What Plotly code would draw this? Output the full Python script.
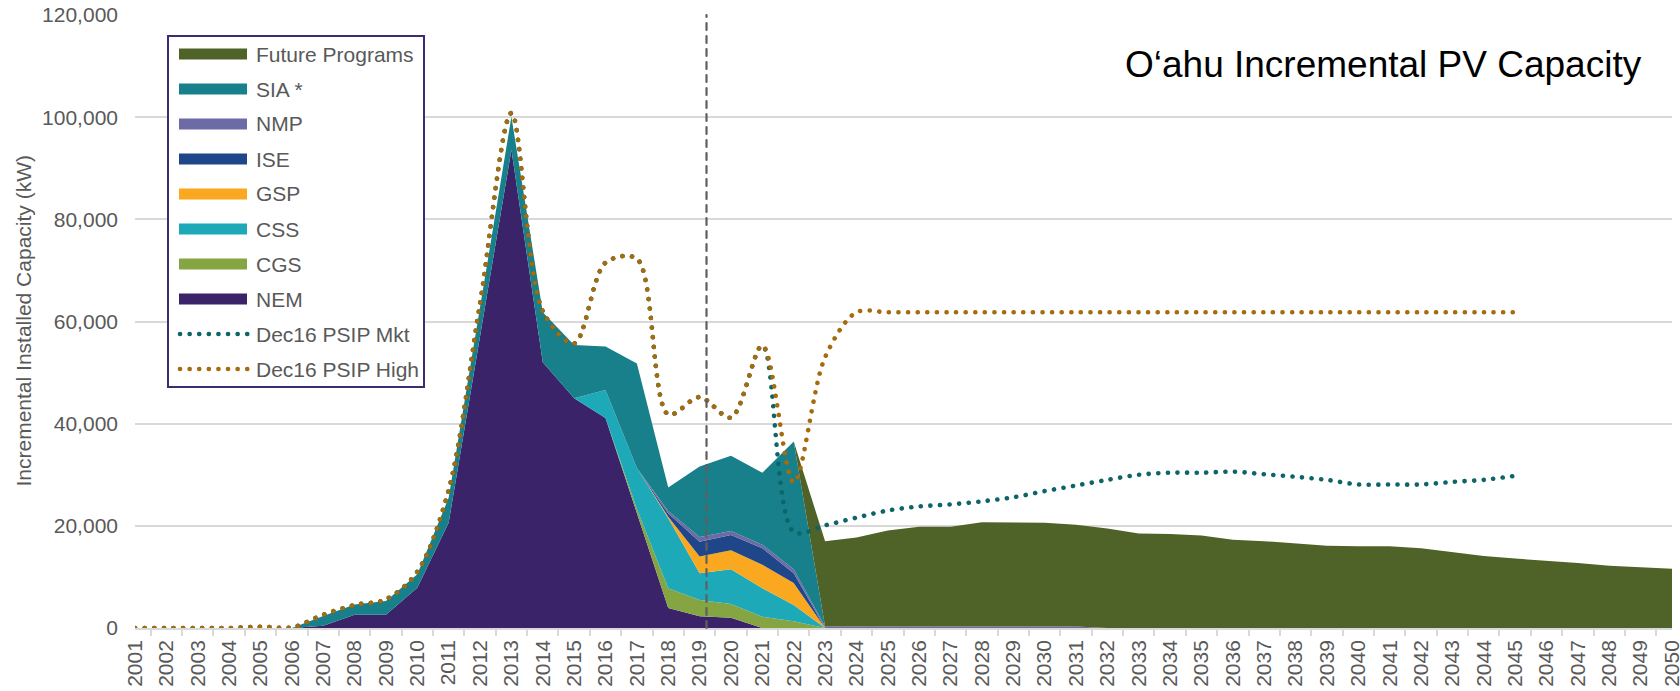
import plotly.graph_objects as go

# categories
years = [str(y) for y in range(2001, 2051)]
line_years = years[:45]

# stacked areas (kW), 2001..2050
nem = [0, 0, 0, 0, 0, 0, 450, 2600, 2600, 7900,
       20600, 57000, 93600, 52000, 45000, 41100, 22700, 3900, 2300, 2000,
       0, 0, 0, 0, 0, 0, 0, 0, 0, 0,
       0, 0, 0, 0, 0, 0, 0, 0, 0, 0,
       0, 0, 0, 0, 0, 0, 0, 0, 0, 0]
cgs = [0, 0, 0, 0, 0, 0, 0, 0, 0, 0,
       0, 0, 0, 0, 0, 0, 600, 3900, 3200, 2700,
       2200, 1300, 0, 0, 0, 0, 0, 0, 0, 0,
       0, 0, 0, 0, 0, 0, 0, 0, 0, 0,
       0, 0, 0, 0, 0, 0, 0, 0, 0, 0]
css = [0, 0, 0, 0, 0, 0, 0, 0, 0, 0,
       0, 0, 0, 0, 0, 5500, 8000, 13700, 5200, 6800,
       5600, 3200, 0, 0, 0, 0, 0, 0, 0, 0,
       0, 0, 0, 0, 0, 0, 0, 0, 0, 0,
       0, 0, 0, 0, 0, 0, 0, 0, 0, 0]
gsp = [0, 0, 0, 0, 0, 0, 0, 0, 0, 0,
       0, 0, 0, 0, 0, 0, 0, 300, 3300, 3700,
       4600, 4300, 0, 0, 0, 0, 0, 0, 0, 0,
       0, 0, 0, 0, 0, 0, 0, 0, 0, 0,
       0, 0, 0, 0, 0, 0, 0, 0, 0, 0]
ise = [0, 0, 0, 0, 0, 0, 0, 0, 0, 0,
       0, 0, 0, 0, 0, 0, 0, 600, 2900, 3000,
       3200, 1900, 0, 0, 0, 0, 0, 0, 0, 0,
       0, 0, 0, 0, 0, 0, 0, 0, 0, 0,
       0, 0, 0, 0, 0, 0, 0, 0, 0, 0]
nmp = [0, 0, 0, 0, 0, 0, 0, 0, 0, 0,
       0, 0, 0, 0, 0, 0, 0, 500, 900, 800,
       700, 800, 300, 300, 300, 300, 300, 300, 300, 300,
       300, 0, 0, 0, 0, 0, 0, 0, 0, 0,
       0, 0, 0, 0, 0, 0, 0, 0, 0, 0]
sia = [0, 0, 0, 0, 0, 0, 1900, 2000, 2700, 2600,
       4900, 6000, 6500, 9800, 10400, 8500, 20500, 4600, 13800, 14700,
       14100, 25000, 0, 0, 0, 0, 0, 0, 0, 0,
       0, 0, 0, 0, 0, 0, 0, 0, 0, 0,
       0, 0, 0, 0, 0, 0, 0, 0, 0, 0]
future = [0, 0, 0, 0, 0, 0, 0, 0, 0, 0,
          0, 0, 0, 0, 0, 0, 0, 0, 0, 0,
          0, 0, 16700, 17400, 18800, 19500, 19500, 20400, 20300, 20300,
          19900, 19500, 18500, 18400, 18100, 17300, 17000, 16600, 16100, 16000,
          16000, 15600, 14900, 14100, 13600, 13200, 12700, 12200, 11900, 11600]

# Dec16 PSIP forecasts, 2001..2045
psip_mkt = [0, 0, 0, 0, 250, 100, 2600, 4500, 5600, 11000,
            27000, 63500, 100800, 62000, 55700, 71500, 72300, 41800, 45200, 41200,
            55300, 18800, 20100, 21600, 23000, 23800, 24200, 24800, 25600, 26800,
            27900, 29000, 30000, 30400, 30400, 30600, 30100, 29600, 29000, 28100,
            28100, 28100, 28600, 29000, 29800]
psip_high = [0, 0, 0, 0, 250, 100, 2600, 4500, 5600, 11000,
             27000, 63500, 100800, 62000, 55700, 71500, 72300, 41800, 45200, 41200,
             55300, 28500, 53000, 61800, 61800, 61800, 61800, 61800, 61800, 61800,
             61800, 61800, 61800, 61800, 61800, 61800, 61800, 61800, 61800, 61800,
             61800, 61800, 61800, 61800, 61800]

y_ticks = [0, 20000, 40000, 60000, 80000, 100000, 120000]

areas = [  # bottom to top
    ('NEM', nem, '#3a2368'),
    ('CGS', cgs, '#84a542'),
    ('CSS', css, '#1ea9b8'),
    ('GSP', gsp, '#f9a81f'),
    ('ISE', ise, '#1f4689'),
    ('NMP', nmp, '#6d6ba6'),
    ('SIA *', sia, '#17808a'),
    ('Future Programs', future, '#4f6228'),
]
lines = [
    ('Dec16 PSIP Mkt', psip_mkt, '#0d6569'),
    ('Dec16 PSIP High', psip_high, '#a66b0c'),
]

GREY = '#595959'
FONT = 'Liberation Sans, Arial, sans-serif'
DOTS = '0.1px,9.5px'   # round caps are added in the page css below

# plot area in pixels
L, R, T, B = 135, 1672, 15, 628


def px_x(p):
    return (p - L) / (R - L)


def px_y(p):
    return (B - p) / (B - T)


fig = go.Figure()
for name, vals, color in areas:
    fig.add_trace(go.Scatter(x=years, y=vals, name=name, stackgroup='pv',
                             mode='lines', line=dict(width=0, color=color),
                             fillcolor=color, showlegend=False))
for name, vals, color in lines:
    fig.add_trace(go.Scatter(x=line_years, y=vals, name=name, mode='lines',
                             line=dict(color=color, width=4.6, dash=DOTS,
                                       shape='spline', smoothing=0.9),
                             showlegend=False))

# 2019 marker line
shapes = [dict(type='line', xref='x', yref='paper', x0=18.22, x1=18.22,
               y0=0, y1=1, line=dict(color='#5f5f5f', width=2.2, dash='7px,6px'),
               layer='above')]
annotations = []

# legend box
shapes.append(dict(type='rect', xref='paper', yref='paper',
                   x0=px_x(168), x1=px_x(424), y0=px_y(387), y1=px_y(36),
                   line=dict(color='#3d2c70', width=2), fillcolor='white',
                   layer='above'))
entries = [(n, c, 'area') for n, v, c in reversed(areas)] + \
          [(n, c, 'line') for n, v, c in lines]
for i, (name, color, kind) in enumerate(entries):
    cy = 54 + 35 * i
    if kind == 'area':
        shapes.append(dict(type='rect', xref='paper', yref='paper',
                           x0=px_x(179), x1=px_x(247),
                           y0=px_y(cy + 5.5), y1=px_y(cy - 5.5),
                           fillcolor=color, line=dict(width=0), layer='above'))
    else:
        shapes.append(dict(type='line', xref='paper', yref='paper',
                           x0=px_x(180), x1=px_x(248), y0=px_y(cy), y1=px_y(cy),
                           line=dict(color=color, width=4.6, dash=DOTS),
                           layer='above'))
    annotations.append(dict(text=name, xref='paper', yref='paper',
                            x=px_x(254), y=px_y(cy), xanchor='left',
                            yanchor='middle', showarrow=False,
                            font=dict(size=21, color=GREY, family=FONT)))

annotations.append(dict(text='O‘ahu Incremental PV Capacity', xref='paper',
                        yref='paper', x=px_x(1644), y=px_y(65), xanchor='right',
                        yanchor='middle', showarrow=False,
                        font=dict(size=37, color='black', family=FONT)))
annotations.append(dict(text='Incremental Installed Capacity (kW)',
                        xref='paper', yref='paper', x=0, xshift=-(L - 23),
                        y=0.5, textangle=-90, xanchor='center',
                        yanchor='middle', showarrow=False,
                        font=dict(size=21, color=GREY, family=FONT)))

fig.update_layout(
    width=1680, height=691,
    margin=dict(l=L, r=1680 - R, t=T, b=691 - B, autoexpand=False),
    paper_bgcolor='white', plot_bgcolor='white',
    font=dict(family=FONT, size=21, color=GREY),
    showlegend=False,
    shapes=shapes, annotations=annotations,
    xaxis=dict(type='category', tickangle=-90, showline=True,
               linecolor='#d9d9d9', linewidth=1.5, ticks='outside',
               tickson='boundaries', ticklen=6, tickcolor='#d9d9d9',
               tickwidth=1.5, showgrid=False, ticklabelstandoff=2,
               automargin=False, tickfont=dict(size=21, color=GREY)),
    yaxis=dict(range=[0, 120000], tickvals=y_ticks, tickformat=',d',
               showgrid=True, gridcolor='#d9d9d9', gridwidth=1.5,
               zeroline=False, showline=False, ticks='', automargin=False,
               ticklabelstandoff=16, tickfont=dict(size=21, color=GREY)),
)

css = ("body{margin:0;overflow:hidden}"
       ".scatterlayer .js-line,.shapelayer path{stroke-linecap:round !important}")
page_js = ("var s=document.createElement('style');s.innerHTML='" + css + "';"
           "document.head.appendChild(s);")

fig.write_html('out.html', config={'displayModeBar': False},
               post_script=page_js)
